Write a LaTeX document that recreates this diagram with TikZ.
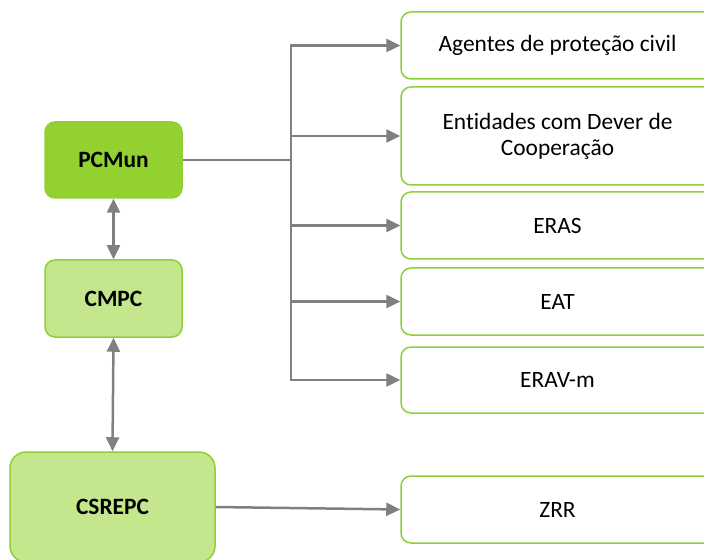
\documentclass[tikz,border=0pt]{standalone}
\usepackage{fontspec}
\setmainfont{Carlito}[Ligatures=NoCommon]
\usetikzlibrary{arrows.meta}
\definecolor{darkleaf}{HTML}{92D12F}
\definecolor{lightleaf}{HTML}{C4E78D}
\definecolor{leafline}{HTML}{8FD03A}
\definecolor{linkgray}{HTML}{808080}

\begin{document}
\begin{tikzpicture}[x=0.5pt, y=-0.5pt,
        >={Triangle[length=7pt, width=6.5pt]},
        every node/.style={font=\fontsize{11.7pt}{13pt}\selectfont},
        organ/.style={draw=leafline, line width=0.75pt, rounded corners=5pt, font=\fontsize{11.7pt}{13pt}\selectfont\bfseries},
        agent/.style={draw=leafline, line width=0.75pt, rounded corners=5pt, fill=white,
            minimum width=156.5pt, align=center},
        link/.style={draw=linkgray, line width=1.25pt}]
        \useasboundingbox (0,0) rectangle (704,560);

        % Municipal bodies
        \node[organ, fill=darkleaf, minimum width=68.5pt, minimum height=38pt] (pcmun) at (113.5,160) {PCMun};
        \node[organ, fill=lightleaf, minimum width=68.5pt, minimum height=38.5pt] (cmpc) at (113.5,298.5) {CMPC};
        \node[organ, fill=lightleaf, minimum width=102.5pt, minimum height=55pt, rounded corners=8pt] (csrepc) at (112.5,507) {CSREPC};

        % Operational agents
        \node[agent, minimum height=33.5pt] (agentes) at (557.5,45.5) {Agentes de proteção civil};
        \node[agent, minimum height=49pt] (entidades) at (557.5,136) {Entidades com Dever de\\Cooperação};
        \node[agent, minimum height=33.5pt] (eras) at (557.5,225.5) {ERAS};
        \node[agent, minimum height=33.5pt] (eat) at (557.5,301.5) {EAT};
        \node[agent, minimum height=33pt] (erav) at (557.5,380) {ERAV-m};
        \node[agent, minimum height=33.5pt] (zrr) at (557.5,509.5) {ZRR};

        % Vertical links
        \draw[link, <->] (pcmun.south) -- (cmpc.north);
        \draw[link, <->] (cmpc.south) -- (csrepc.north);

        % Distribution trunk
        \coordinate (trunk) at (291,160);
        \draw[link] (pcmun.east) -- (trunk);
        \foreach \dest in {agentes, entidades, eras, eat, erav}
            \draw[link, ->] (trunk) |- (\dest.west);

        \draw[link, ->] (csrepc.east) -- (zrr.west);
    \end{tikzpicture}
\end{document}
